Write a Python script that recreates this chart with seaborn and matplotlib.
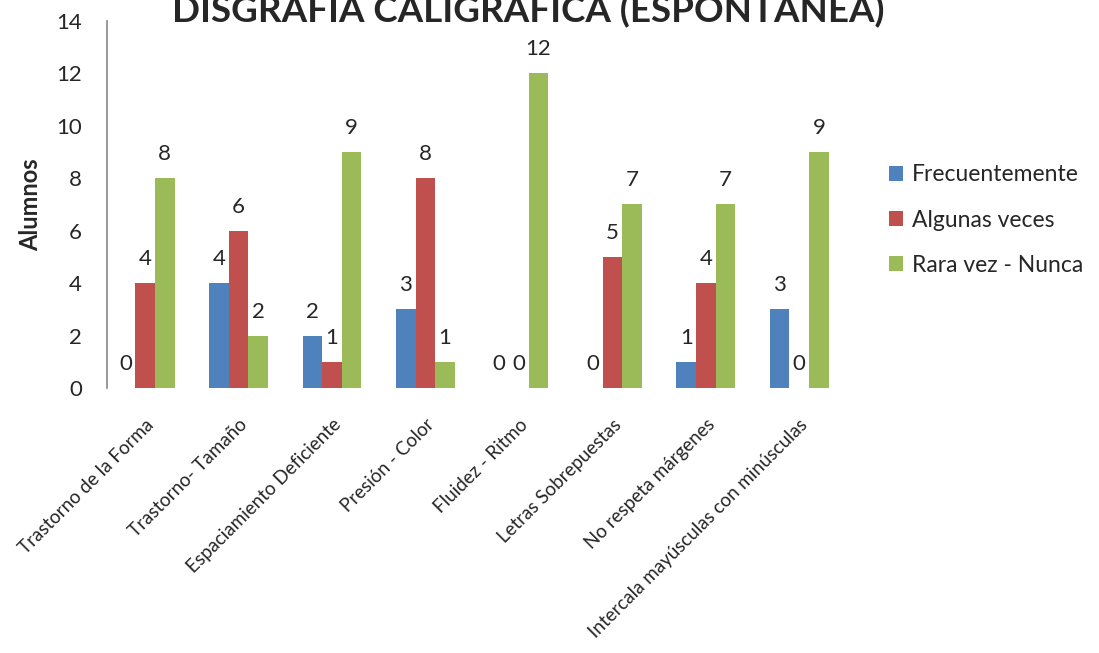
import matplotlib
matplotlib.use("Agg")
import matplotlib.pyplot as plt
import seaborn as sns
import pandas as pd

categorias = [
    "Trastorno de la Forma",
    "Trastorno- Tamaño",
    "Espaciamiento Deficiente",
    "Presión - Color",
    "Fluidez - Ritmo",
    "Letras Sobrepuestas",
    "No respeta márgenes",
    "Intercala mayúsculas con minúsculas",
]
series = ["Frecuentemente", "Algunas veces", "Rara vez - Nunca"]
frecuentemente = [0, 4, 2, 3, 0, 0, 1, 3]
algunas_veces = [4, 6, 1, 8, 0, 5, 4, 0]
rara_vez = [8, 2, 9, 1, 12, 7, 7, 9]
y_ticks = [0, 2, 4, 6, 8, 10, 12, 14]

colores = ["#4F81BD", "#C0504D", "#9BBB59"]

df = pd.DataFrame({
    "categoria": categorias * 3,
    "serie": [s for s in series for _ in categorias],
    "valor": frecuentemente + algunas_veces + rara_vez,
})

sns.set_style("white")
plt.rcParams["font.family"] = ["Lato", "DejaVu Sans"]

fig = plt.figure(figsize=(10.99, 6.53), dpi=100)
ax = fig.add_axes([0.0974, 0.4058, 0.6724, 0.5628])

sns.barplot(data=df, x="categoria", y="valor", hue="serie", hue_order=series,
            order=categorias, palette=colores, width=0.63, ax=ax,
            saturation=1, edgecolor="none", errorbar=None)

for cont in ax.containers:
    ax.bar_label(cont, fmt="%d", padding=10, fontsize=16)

ax.set_ylim(0, 14)
ax.set_yticks(y_ticks)
ax.set_yticklabels([str(v) for v in y_ticks], fontsize=16)
ax.set_xlim(-0.407, len(categorias) - 0.5)
ax.set_xticks(range(len(categorias)))
ax.set_xticklabels(categorias, rotation=45, ha="right", rotation_mode="anchor",
                   fontsize=13.5)
ax.tick_params(axis="x", length=0, pad=20)
ax.tick_params(axis="y", length=0, pad=18)
ax.set_xlabel("")
ax.set_ylabel("Alumnos", fontsize=17, fontweight="bold", labelpad=10)

for side in ["top", "right", "bottom"]:
    ax.spines[side].set_visible(False)
ax.spines["left"].set_color("#868686")
ax.spines["left"].set_linewidth(1.2)

ax.legend(loc="center left", bbox_to_anchor=(1.03, 0.457), frameon=False,
          fontsize=16.5, handlelength=0.6, handleheight=0.6, handletextpad=0.4,
          labelspacing=1.05)

fig.text(0.481, 0.983, "DISGRAFIA CALIGRAFICA (ESPONTANEA)", ha="center",
         va="center", fontsize=26.5, fontweight="bold")

fig.savefig("out.png", dpi=100)
